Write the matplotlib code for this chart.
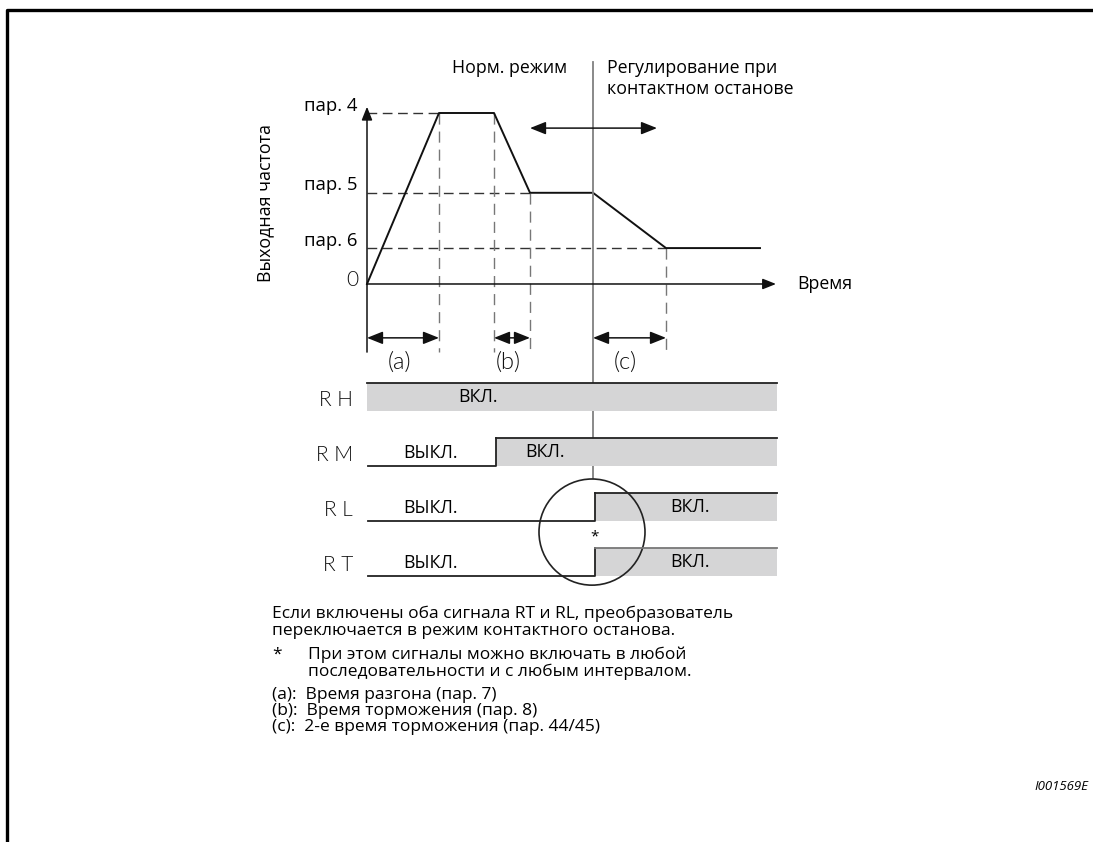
import matplotlib
matplotlib.use("Agg")
import matplotlib.pyplot as plt
from matplotlib.patches import Ellipse

plt.rcParams['font.family'] = ['Open Sans', 'DejaVu Sans']

# output frequency profile (time in arbitrary units, frequency in arbitrary units)
profile_t = [0, 7.2, 12.7, 16.3, 22.6, 29.9, 39.3]
profile_f = [0, 60, 60, 32, 32, 12.6, 12.6]
level_names = ["пар. 4", "пар. 5", "пар. 6"]
level_f = [60, 32, 12.6]
level_end_t = [7.2, 16.3, 29.9]
marker_t = [7.2, 12.7, 16.3, 29.9]
marker_f = [60, 60, 32, 12.6]
span_names = ["(a)", "(b)", "(c)"]
span_start = [0, 12.7, 22.6]
span_end = [7.2, 16.3, 29.9]
t_stop = 22.6
t_axis_end = 40.9

# switching signals
signal_names = ["R H", "R M", "R L", "R T"]
signal_on_t = [0, 12.9, 22.8, 22.8]
signal_end_t = 41.0
off_text_t = 6.3
on_text_t = [11.1, 17.8, 32.3, 32.3]

notes = ["Если включены оба сигнала RT и RL, преобразователь",
         "переключается в режим контактного останова."]
star_note = ["При этом сигналы можно включать в любой",
             "последовательности и с любым интервалом."]
legend_lines = ["(a):  Время разгона (пар. 7)",
                "(b):  Время торможения (пар. 8)",
                "(c):  2-е время торможения (пар. 44/45)"]

fig = plt.figure(figsize=(10.93, 8.42), dpi=100)

# canvas in pixels for frame and notes
ax_c = fig.add_axes([0, 0, 1, 1])
ax_c.set_xlim(0, 1093)
ax_c.set_ylim(842, 0)
ax_c.axis('off')

# frequency diagram
ax_f = fig.add_axes([0, 0, 1, 1])
ax_f.set_xlim(-36.7, 72.6)
ax_f.set_ylim(-195.8, 99.65)
ax_f.axis('off')

# signal rows
ax_s = fig.add_axes([0, 0, 1, 1])
ax_s.set_xlim(-36.7, 72.6)
ax_s.set_ylim(8.345, -6.964)
ax_s.axis('off')

fs = 12.8
fs_note = 12.5
font_geo = dict(family=['Lato', 'DejaVu Sans'], fontweight=300, color='#111111')
arrow_kw = dict(arrowstyle='-|>,head_length=0.8,head_width=0.32', color='#111111',
                lw=1.1, shrinkA=0, shrinkB=0, mutation_scale=10)
dim_kw = dict(arrowstyle='<|-|>,head_length=0.8,head_width=0.32', color='#111111',
              lw=1.1, shrinkA=0, shrinkB=0, mutation_scale=12)

# frame
ax_c.plot([7, 7, 1093], [842, 10, 10], color='black', lw=2.4, solid_capstyle='butt')
ax_c.text(1088, 786, "I001569E", ha='right', va='center', fontsize=9.5, style='italic')

# axes of the frequency plot
f_low = -23.9
ax_f.annotate("", xy=(0, 62.2), xytext=(0, f_low), arrowprops=arrow_kw)
ax_f.annotate("", xy=(t_axis_end, 0), xytext=(0, 0), arrowprops=arrow_kw)
ax_f.text(43.0, 0, "Время", ha='left', va='center', fontsize=fs)
ax_f.text(-0.9, 1.5, "0", ha='right', va='center', fontsize=15, **font_geo)
ax_c.text(265, 203, "Выходная частота", rotation=90, ha='center', va='center', fontsize=fs)

for name, f, te in zip(level_names, level_f, level_end_t):
    ax_f.plot([0, te], [f, f], color='#333333', lw=1.0, ls=(0, (7, 4)))
    ax_f.text(-1.0, f + 2.6, name, ha='right', va='center', fontsize=13.3)

for t, f in zip(marker_t, marker_f):
    ax_f.plot([t, t], [f, f_low], color='#777777', lw=1.0, ls=(0, (8, 5)))

ax_f.plot(profile_t, profile_f, color='#111111', lw=1.4)

# contact-stop boundary
ax_f.plot([t_stop, t_stop], [77.9, -68.0], color='#808080', lw=1.3)

# duration arrows
f_dim = -18.9
for name, a, b in zip(span_names, span_start, span_end):
    ax_f.annotate("", xy=(b, f_dim), xytext=(a, f_dim), arrowprops=dim_kw)
    ax_f.text((a + b) / 2 - 0.4, -27.4, name, ha='center', va='center', fontsize=17, **font_geo)

# region arrow and titles
ax_f.annotate("", xy=(29.0, 54.7), xytext=(16.3, 54.7), arrowprops=dim_kw)
ax_c.text(567, 73, "Норм. режим", ha='right', va='baseline', fontsize=fs)
ax_c.text(607, 73, "Регулирование при", ha='left', va='baseline', fontsize=fs)
ax_c.text(607, 94, "контактном останове", ha='left', va='baseline', fontsize=fs)

# signal rows
for i, (name, ton) in enumerate(zip(signal_names, signal_on_t)):
    hi, lo = i, i + 0.5
    ax_s.fill_between([ton, signal_end_t], hi, lo, color='#d5d5d6', lw=0)
    top_col = '#777777' if i == 3 else '#222222'
    if ton > 0:
        ax_s.plot([0.1, ton, ton], [lo, lo, hi], color='#222222', lw=1.3)
        ax_s.text(off_text_t, i + 0.27, "ВЫКЛ.", ha='center', va='center', fontsize=fs)
    ax_s.plot([ton, signal_end_t], [hi, hi], color=top_col, lw=1.3)
    ax_s.text(on_text_t[i], i + 0.25, "ВКЛ.", ha='center', va='center', fontsize=fs)
    ax_s.text(-1.4, i + 0.31, name, ha='right', va='center', fontsize=15, **font_geo)

ax_s.add_patch(Ellipse((22.5, 2.71), 10.6, 1.93, fill=False, ec='#222222', lw=1.2))
ax_s.text(22.8, 2.8, "*", ha='center', va='center', fontsize=11)

# notes
for k, line in enumerate(notes):
    ax_c.text(272, 618 + 17 * k, line, ha='left', va='baseline', fontsize=fs_note)
ax_c.text(272, 659, "*", ha='left', va='baseline', fontsize=fs_note)
for k, line in enumerate(star_note):
    ax_c.text(308, 659 + 17 * k, line, ha='left', va='baseline', fontsize=fs_note)
for k, line in enumerate(legend_lines):
    ax_c.text(272, 699 + 16 * k, line, ha='left', va='baseline', fontsize=fs_note)

fig.savefig("out.png", dpi=100)
